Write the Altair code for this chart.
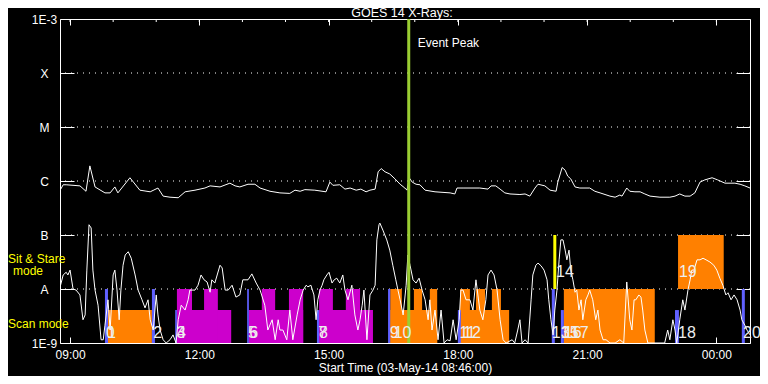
import altair as alt
import pandas as pd

# ---------------- data (hours of 03-May-2014; 24+ = 04-May) ----------------
# GOES long channel (1-8 A), log10 flux (W/m^2)
long_hours = [8.77, 8.84, 8.91, 9.23, 9.37, 9.46, 9.58, 9.81, 9.93, 10.04,
              10.11, 10.39, 10.62, 10.86, 11.04, 11.16, 11.32, 11.51, 11.67, 11.90,
              12.13, 12.25, 12.48, 12.71, 12.83, 12.94, 13.13, 13.29, 13.41, 13.64,
              13.87, 14.10, 14.22, 14.34, 14.45, 14.68, 14.94, 15.03, 15.10, 15.26,
              15.38, 15.50, 15.64, 15.75, 15.87, 15.96, 16.08, 16.15, 16.22, 16.31,
              16.42, 16.54, 16.66, 16.77, 16.82, 16.87, 16.94, 17.03, 17.12, 17.24,
              17.47, 17.82, 17.93, 17.98, 18.12, 18.51, 18.70, 18.77, 18.88, 18.98,
              19.09, 19.21, 19.44, 19.56, 19.67, 19.79, 19.86, 20.02, 20.14, 20.28,
              20.32, 20.42, 20.49, 20.55, 20.62, 20.72, 20.83, 21.06, 21.18, 21.30,
              21.53, 21.65, 21.76, 21.81, 21.92, 21.99, 22.11, 22.23, 22.34, 22.46,
              22.69, 22.92, 23.04, 23.15, 23.27, 23.39, 23.50, 23.62, 23.73, 23.90,
              24.03, 24.20, 24.43, 24.55, 24.66, 24.78]
long_logflux = [-6.17, -6.07, -6.07, -6.09, -6.19, -5.72, -6.11, -6.22, -6.22, -6.11,
                -6.22, -5.94, -6.17, -6.20, -6.13, -6.28, -6.30, -6.31, -6.20, -6.17,
                -6.13, -6.09, -6.11, -6.04, -6.09, -6.11, -6.06, -6.06, -6.13, -6.19,
                -6.22, -6.23, -6.17, -6.19, -6.16, -6.17, -6.20, -6.02, -6.08, -6.07,
                -6.15, -6.13, -6.17, -6.15, -6.20, -6.17, -6.15, -5.83, -5.77, -5.83,
                -5.87, -5.96, -6.06, -6.13, -6.17, -5.94, -6.02, -6.06, -6.07, -6.17,
                -6.20, -6.22, -6.24, -6.13, -6.13, -6.13, -6.15, -6.09, -6.09, -6.15,
                -6.22, -6.24, -6.25, -6.24, -6.28, -6.13, -6.06, -6.09, -6.17, -6.19,
                -6.02, -5.75, -5.80, -5.91, -5.96, -6.11, -6.13, -6.13, -6.19, -6.22,
                -6.28, -6.30, -6.26, -6.28, -6.13, -6.19, -6.20, -6.20, -6.24, -6.28,
                -6.30, -6.30, -6.28, -6.24, -6.28, -6.28, -6.22, -6.02, -5.98, -5.94,
                -5.98, -6.04, -6.04, -6.06, -6.09, -6.13]

# GOES short channel (0.5-4 A), log10 flux (W/m^2)
short_hours = [8.77, 8.84, 8.91, 8.95, 9.00, 9.07, 9.14, 9.23, 9.30, 9.35,
               9.39, 9.44, 9.49, 9.53, 9.58, 9.65, 9.72, 9.77, 9.81, 9.88,
               9.93, 10.00, 10.04, 10.09, 10.14, 10.18, 10.23, 10.28, 10.35, 10.42,
               10.51, 10.58, 10.67, 10.74, 10.81, 10.86, 10.93, 11.00, 11.04, 11.09,
               11.16, 11.23, 11.32, 11.39, 11.46, 11.51, 11.58, 11.67, 11.74, 11.78,
               11.90, 11.97, 12.04, 12.11, 12.18, 12.25, 12.29, 12.36, 12.48, 12.53,
               12.60, 12.67, 12.76, 12.85, 12.94, 13.01, 13.13, 13.22, 13.32, 13.41,
               13.52, 13.59, 13.69, 13.76, 13.83, 13.87, 13.94, 14.03, 14.10, 14.17,
               14.27, 14.34, 14.41, 14.48, 14.52, 14.59, 14.66, 14.71, 14.75, 14.80,
               14.85, 14.89, 14.96, 15.01, 15.08, 15.13, 15.19, 15.26, 15.33, 15.38,
               15.45, 15.54, 15.61, 15.68, 15.73, 15.78, 15.82, 15.89, 15.96, 16.03,
               16.08, 16.12, 16.17, 16.19, 16.26, 16.35, 16.42, 16.49, 16.56, 16.61,
               16.66, 16.73, 16.80, 16.84, 16.89, 16.96, 17.03, 17.10, 17.17, 17.24,
               17.31, 17.35, 17.40, 17.47, 17.54, 17.61, 17.68, 17.75, 17.82, 17.89,
               17.96, 18.03, 18.07, 18.12, 18.19, 18.28, 18.35, 18.42, 18.51, 18.58,
               18.65, 18.70, 18.77, 18.84, 18.91, 18.98, 19.05, 19.12, 19.26, 19.32,
               19.39, 19.44, 19.49, 19.56, 19.63, 19.70, 19.74, 19.81, 19.86, 19.93,
               20.00, 20.07, 20.11, 20.16, 20.21, 20.25, 20.30, 20.35, 20.39, 20.44,
               20.49, 20.53, 20.58, 20.62, 20.67, 20.72, 20.76, 20.81, 20.86, 20.90,
               20.97, 21.02, 21.06, 21.13, 21.20, 21.25, 21.30, 21.37, 21.44, 21.53,
               21.65, 21.76, 21.85, 21.92, 21.99, 22.04, 22.09, 22.13, 22.20, 22.25,
               22.29, 22.34, 22.41, 22.80, 22.87, 22.92, 22.99, 23.04, 23.08, 23.15,
               23.22, 23.27, 23.34, 23.39, 23.43, 23.48, 23.55, 23.62, 23.69, 23.76,
               23.85, 23.94, 24.01, 24.08, 24.15, 24.22, 24.27, 24.34, 24.41, 24.48,
               24.55, 24.59, 24.66, 24.71, 24.78]
short_logflux = [-7.96, -7.74, -7.69, -7.74, -7.65, -8.00, -8.02, -8.11, -8.57, -8.48,
                 -7.65, -6.81, -6.87, -7.65, -8.02, -8.30, -8.94, -8.94, -8.67, -8.20,
                 -8.76, -7.74, -7.65, -8.02, -8.57, -8.02, -7.56, -7.37, -7.31, -7.43,
                 -7.74, -8.02, -8.20, -8.35, -8.20, -8.57, -8.76, -8.11, -8.48, -8.76,
                 -8.94, -9.00, -8.94, -8.85, -9.00, -8.57, -8.30, -8.39, -8.20, -8.02,
                 -8.02, -7.93, -7.74, -7.83, -7.87, -8.06, -7.83, -7.89, -7.56, -7.61,
                 -8.02, -8.02, -7.93, -8.15, -8.11, -7.83, -7.83, -7.72, -7.89, -8.02,
                 -8.30, -8.76, -8.57, -8.94, -8.57, -8.76, -8.76, -8.94, -8.39, -8.94,
                 -8.48, -8.20, -8.02, -7.93, -7.96, -7.93, -8.11, -8.57, -8.20, -8.02,
                 -7.93, -7.83, -7.74, -7.69, -7.89, -7.83, -7.80, -7.89, -7.74, -8.02,
                 -8.20, -7.93, -8.48, -8.76, -8.57, -8.30, -8.02, -8.94, -8.11, -8.02,
                 -7.93, -7.09, -6.81, -6.78, -6.91, -7.09, -7.28, -7.56, -7.83, -8.02,
                 -8.20, -8.48, -7.93, -7.37, -7.56, -7.83, -7.89, -7.80, -8.02, -8.20,
                 -8.57, -8.20, -8.76, -8.39, -8.94, -8.39, -9.00, -8.94, -8.96, -8.57,
                 -8.94, -8.57, -8.02, -8.02, -8.20, -8.20, -8.39, -7.83, -8.39, -8.57,
                 -8.20, -7.74, -7.65, -7.74, -8.02, -8.57, -8.94, -9.00, -8.94, -9.00,
                 -8.76, -8.57, -9.00, -8.94, -9.00, -8.20, -7.74, -7.56, -7.52, -7.57,
                 -7.65, -7.83, -8.20, -8.57, -8.85, -8.39, -8.02, -7.46, -7.09, -7.09,
                 -7.28, -7.46, -7.28, -7.65, -7.83, -8.06, -8.02, -8.39, -8.20, -8.57,
                 -8.20, -8.11, -8.02, -8.20, -8.57, -8.39, -8.76, -8.94, -8.94, -9.00,
                 -9.00, -8.94, -9.00, -7.87, -8.57, -8.76, -8.20, -8.20, -8.11, -8.15,
                 -8.39, -8.76, -9.00, -9.00, -8.76, -8.94, -8.57, -8.76, -9.00, -8.57,
                 -8.20, -8.39, -8.02, -7.83, -7.65, -7.65, -7.46, -7.46, -7.43, -7.46,
                 -7.50, -7.56, -7.65, -7.80, -7.93, -8.11, -8.07, -8.20, -8.11, -8.20,
                 -8.39, -8.57, -8.67, -8.76, -8.85]

# IRIS observation blocks (start/end hour, bottom/top level, kind)
obs_start = [9.86, 16.43, 16.43, 16.98, 17.35, 18.07, 18.05, 18.42, 18.79, 20.46, 23.11,
             11.48, 11.48, 12.11, 13.15, 13.45, 14.08, 14.78, 14.78, 15.40,
             9.81, 10.90, 11.44, 13.11, 14.73, 16.38, 18.00, 20.18, 20.39, 23.04, 24.59]
obs_end = [10.90, 17.52, 16.70, 17.17, 17.52, 19.19, 18.28, 18.63, 19.00, 22.57, 24.17,
           12.74, 11.83, 12.43, 14.41, 13.76, 14.41, 16.03, 15.10, 15.73,
           9.88, 10.97, 11.48, 13.15, 14.78, 16.43, 18.07, 20.25, 20.46, 23.13, 24.66]
obs_low = [-9, -9, -9, -9, -9, -9, -9, -9, -9, -9, -8,
           -9, -9, -9, -9, -9, -9, -9, -9, -9,
           -9, -9, -9, -9, -9, -9, -9, -9, -9, -9, -9]
obs_high = [-8.39, -8.39, -8, -8, -8, -8.39, -8, -8, -8, -8, -7,
            -8.39, -8, -8, -8.39, -8, -8, -8.39, -8, -8,
            -8, -8, -8.39, -8, -8.39, -8, -8.39, -8, -8.39, -8.39, -8]
obs_kind = ["orange", "orange", "orange", "orange", "orange", "orange", "orange",
            "orange", "orange", "orange", "orange",
            "magenta", "magenta", "magenta", "magenta", "magenta", "magenta",
            "magenta", "magenta", "magenta",
            "blue", "blue", "blue", "blue", "blue", "blue", "blue", "blue", "blue",
            "blue", "blue"]

label_hours = [9.83, 9.86, 10.93, 11.47, 11.48, 13.13, 13.16, 14.76, 14.78, 16.42,
               16.51, 18.03, 18.12, 20.18, 20.28, 20.39, 20.46, 20.62, 23.11, 23.13,
               24.62]
label_text = ["0", "1", "2", "3", "4", "5", "6", "7", "8", "9", "10", "11", "12",
              "13", "14", "15", "16", "17", "18", "19", "20"]
label_level = [-8.81, -8.81, -8.81, -8.81, -8.81, -8.81, -8.81, -8.81, -8.81, -8.81,
               -8.81, -8.81, -8.81, -8.81, -7.69, -8.81, -8.81, -8.81, -8.81, -7.69,
               -8.81]

axis_levels = [-9, -8, -7, -6, -5, -4, -3]
axis_names = ["1E-9", "A", "B", "C", "M", "X", "1E-3"]
class_levels = [-8, -7, -6, -5, -4]
major_hours = [9, 12, 15, 18, 21, 24]
minor_hours = [9, 10, 11, 12, 13, 14, 15, 16, 17, 18, 19, 20, 21, 22, 23, 24]
event_peak_hour = 16.86
sit_stare_hour = 20.25
sit_stare_range = [-8, -7]
x_domain = [8.7667, 24.78]
title_text = "GOES 14 X-Rays:"

# ---------------- chart ----------------
FONT = "Liberation Sans"
W, H = 690, 324
x_scale = alt.Scale(domain=x_domain, nice=False, zero=False)
y_scale = alt.Scale(domain=[axis_levels[0], axis_levels[-1]], nice=False, zero=False)

curves = pd.DataFrame({
    "hour": long_hours + short_hours,
    "logflux": long_logflux + short_logflux,
    "channel": ["long"] * len(long_hours) + ["short"] * len(short_hours),
})
obs_df = pd.DataFrame({"start": obs_start, "end": obs_end, "low": obs_low,
                       "high": obs_high, "kind": obs_kind})
labels_df = pd.DataFrame({"hour": label_hours, "label": label_text, "level": label_level})

name_expr = "[" + ",".join("'%s'" % n for n in axis_names) + "][datum.value + 9]"
time_expr = "(datum.value % 24 < 10 ? '0' : '') + (datum.value % 24) + ':00'"

grid = alt.Chart(pd.DataFrame({"level": class_levels})).mark_rule(
    color="white", strokeDash=[1, 5], strokeWidth=1
).encode(
    y=alt.Y("level:Q", scale=y_scale,
            axis=alt.Axis(orient="right", offset=-14, tickSize=14, values=axis_levels,
                          labels=False, domain=False, grid=False, tickColor="white",
                          tickWidth=1, title=None))
)

blocks = alt.Chart(obs_df).mark_rect().encode(
    x=alt.X("start:Q", scale=x_scale,
            axis=alt.Axis(orient="top", offset=-6, tickSize=6, values=major_hours,
                          labels=False, domain=False, grid=False, tickColor="white",
                          tickWidth=1, title=None)),
    x2="end:Q",
    y=alt.Y("low:Q", scale=y_scale, axis=None),
    y2="high:Q",
    color=alt.Color("kind:N", legend=None,
                    scale=alt.Scale(domain=["blue", "orange", "magenta"],
                                    range=["#6060ff", "#ff8000", "#cc00cc"])),
)

ss_rule = alt.Chart(pd.DataFrame({"hour": [sit_stare_hour], "low": [sit_stare_range[0]],
                                  "high": [sit_stare_range[1]]})).mark_rule(
    color="#ffff00", strokeWidth=3
).encode(
    x=alt.X("hour:Q", scale=x_scale, axis=None),
    y=alt.Y("low:Q", scale=y_scale, axis=None),
    y2="high:Q",
)

lines = alt.Chart(curves).mark_line(color="white", strokeWidth=1, clip=True).encode(
    x=alt.X("hour:Q", scale=x_scale,
            axis=alt.Axis(orient="bottom", offset=-6, tickSize=6, values=major_hours,
                          labelExpr=time_expr, domain=False, grid=False,
                          tickColor="white", tickWidth=1, labelColor="white",
                          labelFont=FONT, labelFontSize=12, labelPadding=6,
                          labelFlush=False, labelOverlap=False,
                          title="Start Time (03-May-14 08:46:00)", titleColor="white",
                          titleFont=FONT, titleFontSize=12, titleFontWeight="normal",
                          titlePadding=2)),
    y=alt.Y("logflux:Q", scale=y_scale,
            axis=alt.Axis(orient="left", offset=-14, tickSize=14, values=axis_levels,
                          labelExpr=name_expr, labelAlign="center",
                          labelBaseline="middle", labelPadding=16, labelFlush=False,
                          labelOverlap=False, domain=False, grid=False,
                          tickColor="white", tickWidth=1, labelColor="white",
                          labelFont=FONT, labelFontSize=12, title=None)),
    detail="channel:N",
)

event_rule = alt.Chart(pd.DataFrame({"hour": [event_peak_hour]})).mark_rule(
    color="#9acd32", strokeWidth=3
).encode(x=alt.X("hour:Q", scale=x_scale, axis=None))

event_text = alt.Chart(pd.DataFrame({"hour": [event_peak_hour]})).mark_text(
    text="Event Peak", align="left", baseline="middle", dx=9, color="white",
    font=FONT, fontSize=12
).encode(x=alt.X("hour:Q", scale=x_scale, axis=None), y=alt.value(24))

obs_labels = alt.Chart(labels_df).mark_text(
    align="left", baseline="middle", font=FONT, fontSize=16, color="#eeeeee"
).encode(
    x=alt.X("hour:Q", scale=x_scale, axis=None),
    y=alt.Y("level:Q", scale=y_scale, axis=None),
    text="label:N",
)

minor_ticks = alt.Chart(pd.DataFrame({"hour": minor_hours})).mark_rule(
    color="white", strokeWidth=1
).encode(x=alt.X("hour:Q", scale=x_scale, axis=None), y=alt.value(0), y2=alt.value(3))

def side_text(txt, xpix, ypix, color="#ffff00", size=12, align="left",
              baseline="middle"):
    return alt.Chart(pd.DataFrame({"t": [txt]})).mark_text(
        align=align, baseline=baseline, font=FONT, fontSize=size, color=color
    ).encode(text="t:N", x=alt.value(xpix), y=alt.value(ypix))

title_mark = side_text(title_text, W / 2 - 3, -2, color="white", size=12.5,
                       align="center", baseline="alphabetic")

chart = alt.layer(
    grid, blocks, ss_rule, lines, event_rule, event_text, obs_labels, minor_ticks,
    side_text("Sit & Stare", -52, 240), side_text("mode", -47, 252),
    side_text("Scan mode", -52, 305), title_mark,
).resolve_axis(
    x="independent", y="independent"
).properties(
    width=W, height=H,
    background="black",
    padding={"left": 52, "top": 11, "right": 10, "bottom": 33},
    autosize=alt.AutoSizeParams(type="none"),
).configure_view(stroke="white", strokeWidth=1)

chart.save("out.html", embed_options={"renderer": "svg", "actions": False})
